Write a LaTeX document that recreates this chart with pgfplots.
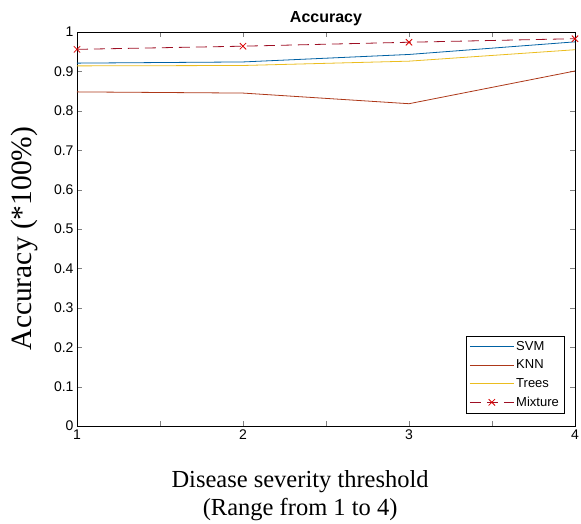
\documentclass[border=0pt]{standalone}
\usepackage{fontspec}
\setmainfont{Liberation Serif}
\setsansfont{Liberation Sans}
\usepackage{pgfplots}
\pgfplotsset{compat=1.18}
\definecolor{svmc}{rgb}{0,0.38,0.64}
\definecolor{knnc}{rgb}{0.68,0.22,0.1}
\definecolor{treec}{rgb}{0.92,0.74,0.12}
\definecolor{mixc}{rgb}{0.62,0.06,0.14}
\begin{document}
\begin{tikzpicture}
\useasboundingbox (-77pt,-97pt) rectangle (504pt,426pt);
\begin{axis}[
    scale only axis,
    width=498pt, height=394pt,
    xmin=1, xmax=4, ymin=0, ymax=1,
    xtick={1,2,3,4},
    minor xtick={1.5,2.5,3.5},
    ytick={0,0.1,0.2,0.3,0.4,0.5,0.6,0.7,0.8,0.9,1},
    yticklabels={0,0.1,0.2,0.3,0.4,0.5,0.6,0.7,0.8,0.9,1},
    tick align=inside,
    major tick length=5pt, minor tick length=5pt,
    /pgf/number format/assume math mode=true,
    tick label style={font=\sffamily\fontsize{14}{15}\selectfont},
    title={Accuracy},
    title style={font=\sffamily\bfseries\fontsize{16}{17}\selectfont,
        at={(axis description cs:0.5,1)}, anchor=south, yshift=-3pt},
    xlabel={Disease severity threshold\\(Range from 1 to 4)},
    xlabel style={align=center, font=\fontsize{24.5}{28}\selectfont,
        at={(axis description cs:0.448,0)}, anchor=north, yshift=-41pt},
    ylabel={Accuracy (*100\%)},
    ylabel style={font=\fontsize{29.5}{31}\selectfont,
        at={(axis description cs:-0.106,0.476)}, anchor=center},
    legend style={at={(axis description cs:0.978,0.033)}, anchor=south east,
        font=\sffamily\fontsize{13}{14}\selectfont, draw=black,
        inner xsep=3pt, inner ysep=3pt, row sep=4pt},
    legend cell align=left,
    legend image code/.code={
        \draw[mark repeat=2,mark phase=2,#1]
        plot coordinates {(0pt,0pt) (22pt,0pt) (44pt,0pt)};},
]
\addplot[svmc, line width=0.8pt] coordinates {(1,0.921) (2,0.924) (3,0.943) (4,0.975)};
\addlegendentry{SVM}
\addplot[knnc, line width=0.8pt] coordinates {(1,0.848) (2,0.845) (3,0.818) (4,0.901)};
\addlegendentry{KNN}
\addplot[treec, line width=0.8pt] coordinates {(1,0.914) (2,0.915) (3,0.926) (4,0.955)};
\addlegendentry{Trees}
\addplot[mixc, line width=0.8pt, dash pattern=on 11pt off 6pt, mark=x, mark size=4.5pt,
    mark options={solid, color=red!85!black}] coordinates {(1,0.956) (2,0.964) (3,0.974) (4,0.983)};
\addlegendentry{Mixture}
\end{axis}
\end{tikzpicture}
\end{document}
